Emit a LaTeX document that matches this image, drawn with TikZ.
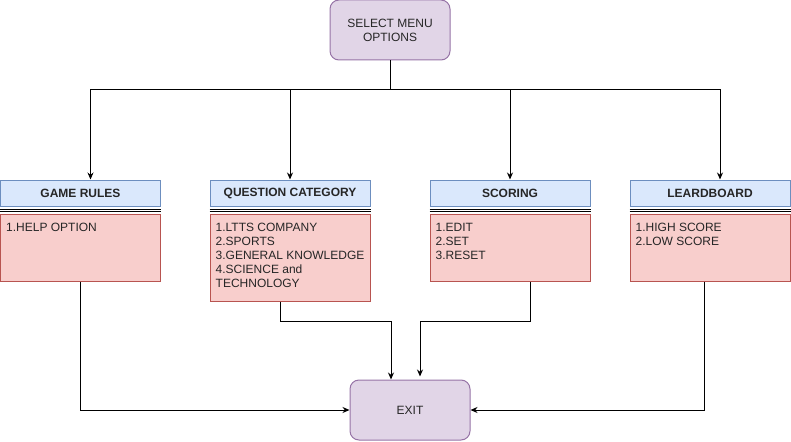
\documentclass[tikz,border=0pt]{standalone}
\usepackage{fontspec}
\setmainfont{Liberation Sans}
\usetikzlibrary{arrows.meta, positioning}
\definecolor{menufill}{HTML}{E1D5E7}
\definecolor{menuline}{HTML}{9673A6}
\definecolor{headfill}{HTML}{DAE8FC}
\definecolor{headline}{HTML}{6C8EBF}
\definecolor{itemfill}{HTML}{F8CECC}
\definecolor{itemline}{HTML}{B85450}
\tikzset{
    menubox/.style={rectangle, rounded corners=9pt, draw=menuline, fill=menufill, line width=1pt, align=center, font=\fontsize{12}{14}\selectfont, text=black!85, minimum width=120pt, minimum height=60pt},
    headbox/.style={rectangle, draw=headline, fill=headfill, line width=1pt, font=\fontsize{12}{14}\selectfont\bfseries, text=black!85, minimum width=160pt, minimum height=26pt, inner sep=0pt},
    itembox/.style={rectangle, draw=itemline, fill=itemfill, line width=1pt, minimum width=160pt, inner sep=0pt},
    itemtext/.style={anchor=north west, align=left, inner xsep=6pt, inner ysep=9.5pt, font=\fontsize{12}{14}\selectfont, text=black!85},
    sepline/.style={line width=0.8pt, black},
    arr/.style={-{Stealth[length=7pt, width=6pt]}, line width=1pt, black}
}
\begin{document}
\begin{tikzpicture}[x=1pt, y=-1pt]
    \useasboundingbox (0,0) rectangle (791,441);
    % menu and exit
    \node[menubox] (menu) at (390,30) {SELECT MENU\\OPTIONS};
    \node[menubox] (exit) at (410,410) {EXIT};
    % option headers
    \node[headbox] (rules) at (80.5,193) {GAME RULES};
    \node[headbox] (quest) at (290,193) {QUESTION CATEGORY};
    \node[headbox] (score) at (510,193) {SCORING};
    \node[headbox] (board) at (710,193) {LEARDBOARD};
    % option items
    \node[itembox, minimum height=67pt, below=7pt of rules, label={[itemtext]north west:{1.HELP OPTION}}] (rulesitems) {};
    \node[itembox, minimum height=87pt, below=7pt of quest, label={[itemtext]north west:{1.LTTS COMPANY\\2.SPORTS\\3.GENERAL KNOWLEDGE\\4.SCIENCE and\\TECHNOLOGY}}] (questitems) {};
    \node[itembox, minimum height=67pt, below=7pt of score, label={[itemtext]north west:{1.EDIT\\2.SET\\3.RESET}}] (scoreitems) {};
    \node[itembox, minimum height=67pt, below=7pt of board, label={[itemtext]north west:{1.HIGH SCORE\\2.LOW SCORE}}] (boarditems) {};
    \foreach \h in {rules, quest, score, board} {
        \draw[sepline] ([yshift=-2.5pt]\h.south west) -- ([yshift=-2.5pt]\h.south east);
        \draw[sepline] ([yshift=-4.8pt]\h.south west) -- ([yshift=-4.8pt]\h.south east);
    }
    % menu to options
    \coordinate (split) at (390,90);
    \draw[line width=1pt] (menu.south) -- (split);
    \draw[arr] (split) -| ([xshift=10pt]rules.north);
    \draw[arr] (split) -| (quest.north);
    \draw[arr] (split) -| (score.north);
    \draw[arr] (split) -| ([xshift=10pt]board.north);
    % options to exit
    \draw[arr] (rulesitems.south) |- (exit.west);
    \draw[arr] ([xshift=-10pt]questitems.south) -- ++(0,20) -| ([xshift=-19pt]exit.north);
    \draw[arr, shorten >=3pt] ([xshift=20pt]scoreitems.south) -- ++(0,40) -| ([xshift=10pt]exit.north);
    \draw[arr] ([xshift=-6pt]boarditems.south) |- (exit.east);
\end{tikzpicture}
\end{document}
